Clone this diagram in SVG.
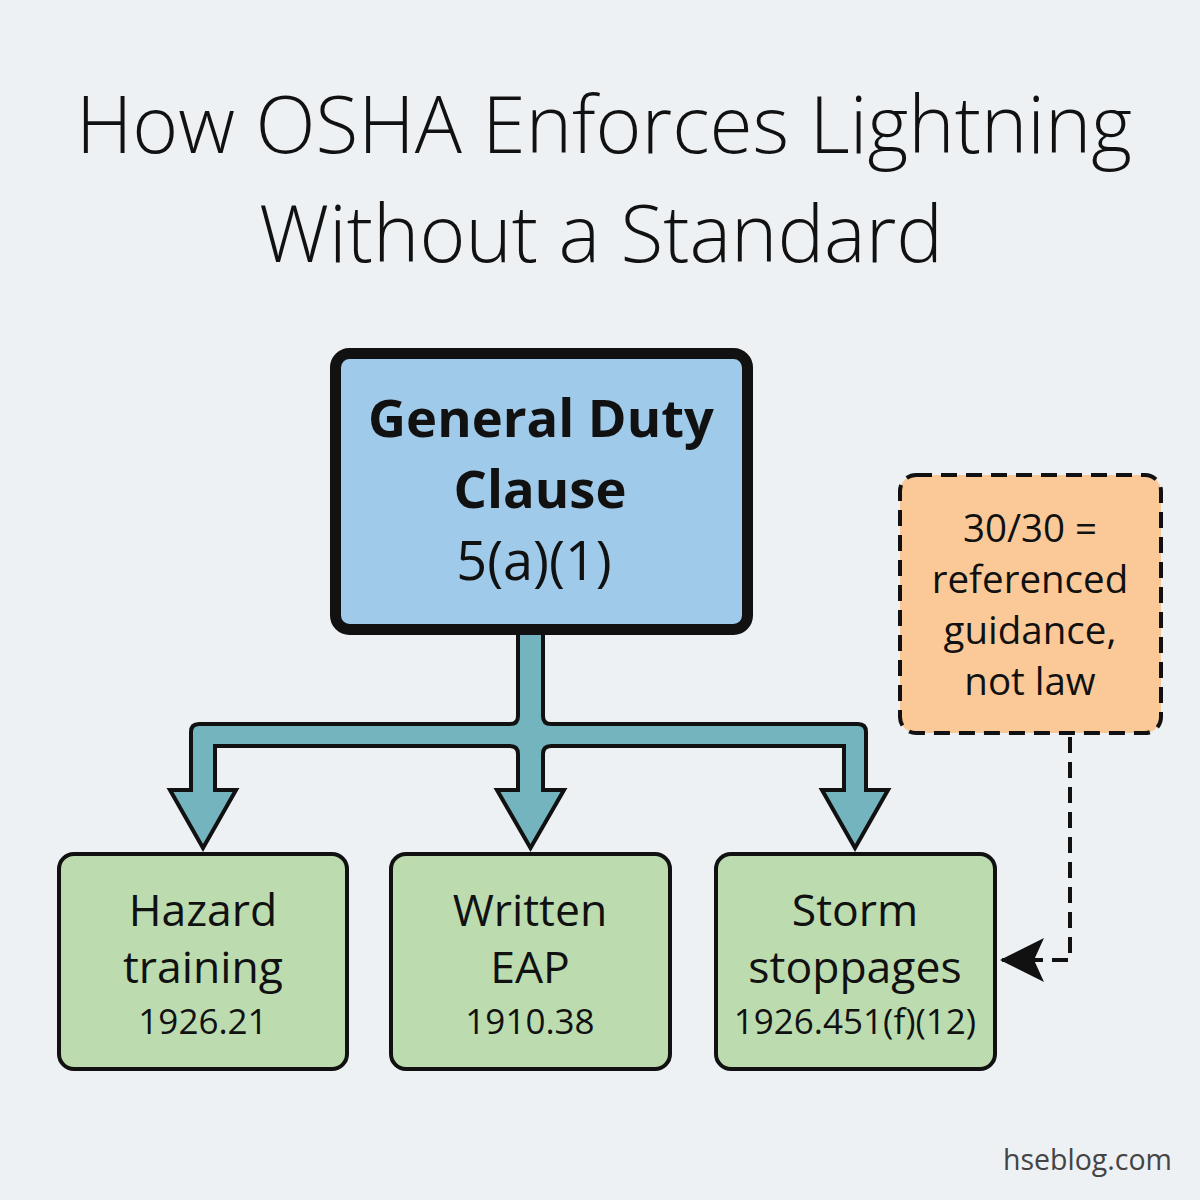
<svg xmlns="http://www.w3.org/2000/svg" width="1200" height="1200" viewBox="0 0 1200 1200">
  <style>
    text { font-family: "Open Sans", "Noto Sans", "DejaVu Sans", sans-serif; fill: #111; text-anchor: middle; }
    .title { font-size: 78.5px; font-weight: 300; }
    .main-b { font-size: 52.5px; font-weight: 700; }
    .main-r { font-size: 54px; font-weight: 400; }
    .leaf { fill: #bcdcb0; stroke: #111; stroke-width: 4; }
    .leaf-t { font-size: 44.5px; }
    .leaf-n { font-size: 35px; }
    .note-t { font-size: 38.5px; }
    .dash { stroke: #111; stroke-width: 4; stroke-dasharray: 16 9; fill: none; }
    .note { fill: #fbc998; stroke: #111; stroke-width: 4; stroke-dasharray: 16 9; }
  </style>
  <defs>
    <marker id="ah" viewBox="0 0 44 44" refX="44" refY="22" markerWidth="44" markerHeight="44" markerUnits="userSpaceOnUse" orient="auto">
      <path d="M44,22 L0,0 L10,22 L0,44 Z" fill="#111"/>
    </marker>
  </defs>
  <rect width="1200" height="1200" fill="#edf1f4"/>

  <g id="title">
    <text class="title" x="604" y="153">How OSHA Enforces Lightning</text>
    <text class="title" x="601" y="262">Without a Standard</text>
  </g>

  <g id="connectors">
    <path d="M518,630 L518,716 Q518,724 510,724 L199,724 Q191,724 191,732 L191,790 L170,790 L203,848 L236,790 L215,790 L215,746 L510,746 Q518,746 518,754 L518,790 L497,790 L530.5,848 L564,790 L543,790 L543,754 Q543,746 551,746 L844,746 L844,790 L822,790 L855,848 L888,790 L866,790 L866,732 Q866,724 858,724 L551,724 Q543,724 543,716 L543,630 Z" fill="#74b4bf" stroke="#111" stroke-width="4" stroke-linejoin="miter"/>
    <path class="dash" d="M1070,737 L1070,960 L1000,960" marker-end="url(#ah)"/>
  </g>

  <g id="general-duty-clause">
    <rect x="335.5" y="353.5" width="412" height="276" rx="14" fill="#9fcaea" stroke="#111" stroke-width="11"/>
    <text class="main-b" x="541" y="437">General Duty</text>
    <text class="main-b" x="540" y="508">Clause</text>
    <text class="main-r" x="534" y="580">5(a)(1)</text>
  </g>

  <g id="note-30-30">
    <rect class="note" x="900" y="475" width="261" height="258" rx="16"/>
    <text class="note-t" x="1030" y="542">30/30 =</text>
    <text class="note-t" x="1030" y="593">referenced</text>
    <text class="note-t" x="1030" y="644">guidance,</text>
    <text class="note-t" x="1030" y="695">not law</text>
  </g>

  <g id="hazard-training">
    <rect class="leaf" x="59" y="854" width="288" height="215" rx="15"/>
    <text class="leaf-t" x="203" y="926">Hazard</text>
    <text class="leaf-t" x="203" y="983">training</text>
    <text class="leaf-n" x="203" y="1034">1926.21</text>
  </g>

  <g id="written-eap">
    <rect class="leaf" x="391" y="854" width="279" height="215" rx="15"/>
    <text class="leaf-t" x="530" y="926">Written</text>
    <text class="leaf-t" x="530" y="983">EAP</text>
    <text class="leaf-n" x="530" y="1034">1910.38</text>
  </g>

  <g id="storm-stoppages">
    <rect class="leaf" x="716" y="854" width="279" height="215" rx="15"/>
    <text class="leaf-t" x="855" y="926">Storm</text>
    <text class="leaf-t" x="855" y="983">stoppages</text>
    <text class="leaf-n" x="855" y="1034">1926.451(f)(12)</text>
  </g>

  <text x="1172" y="1170" style="font-size:28.5px; fill:#444; text-anchor:end;">hseblog.com</text>
</svg>
